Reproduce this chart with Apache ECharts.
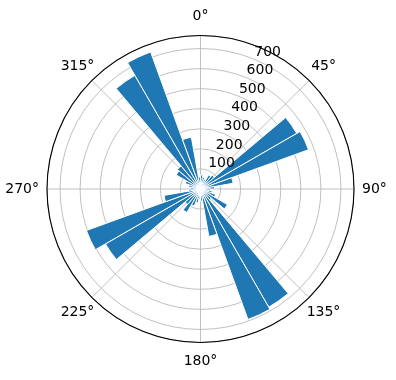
<!DOCTYPE html>
<html>
<head>
<meta charset="utf-8">
<script src="https://cdn.jsdelivr.net/npm/echarts@6/dist/echarts.min.js"></script>
<style>html,body{margin:0;padding:0;background:#fff;}#c{width:396px;height:380px;}</style>
</head>
<body>
<div id="c"></div>
<script>
// Direction bins (10° each, clockwise from north)
const binStarts = [0,10,20,30,40,50,60,70,80,90,100,110,120,130,140,150,160,170,180,190,200,210,220,230,240,250,260,270,280,290,300,310,320,330,340,350];
const categories = binStarts.map(s => s + '°-' + (s + 10) + '°');
// Bar heights per bin
const values = [70,60,50,80,90,554,573,165,70,50,60,80,155,70,680,692,240,60,50,70,90,135,100,547,605,185,60,50,60,80,140,150,654,727,262,60];
// Tick labels
const angleTicks = [0,45,90,135,180,225,270,315];
const radialTicks = [100,200,300,400,500,600,700];
const radialMax = 765;

const font = {color:'#000', fontSize:14, fontFamily:'DejaVu Sans'};
const center = [200.5, 189];
const radius = 153.5;

function labelAxis(idx, ticks, margin, padding) {
  return {polarIndex:idx, type:'value', min:0, max:360, interval:45, startAngle:90, clockwise:true,
    axisLine:{show:false}, axisTick:{show:false}, splitLine:{show:false},
    axisLabel:Object.assign({margin:margin, padding:padding || 0,
      formatter: v => (ticks.includes(v) && v !== 360) ? v + '°' : ''}, font)};
}
function hiddenRadius(idx) {
  return {polarIndex:idx, type:'value', min:0, max:radialMax,
    axisLine:{show:false}, axisTick:{show:false}, axisLabel:{show:false}, splitLine:{show:false}};
}

const chart = echarts.init(document.getElementById('c'), null, {renderer:'canvas'});
chart.setOption({
  animation: false,
  polar: [0,1,2,3,4,5,6,7].map(() => ({center: center, radius: radius})),
  angleAxis: [
    {polarIndex:0, type:'category', data:categories, startAngle:90, clockwise:true, boundaryGap:true,
     axisLine:{show:false}, axisTick:{show:false}, axisLabel:{show:false}, splitLine:{show:false}},
    {polarIndex:1, type:'value', min:0, max:360, interval:45, startAngle:90, clockwise:true,
     axisLine:{show:true, lineStyle:{color:'#000', width:1.1}}, axisTick:{show:false},
     axisLabel:Object.assign({margin:12,
       formatter: v => (v === angleTicks[0] || v === angleTicks[4]) ? v + '°' : ''}, font),
     splitLine:{show:true, lineStyle:{color:'#b0b0b0', width:0.8}}},
    {polarIndex:2, type:'value', min:0, max:360, startAngle:67.5, clockwise:true,
     axisLine:{show:false}, axisTick:{show:false}, axisLabel:{show:false}, splitLine:{show:false}},
    labelAxis(3, [angleTicks[2], angleTicks[6]], 8),
    labelAxis(4, [angleTicks[1]], 3, [0, 0, 5, 0]),
    labelAxis(5, [angleTicks[3]], -3.4, [10, 0, 0, 0]),
    labelAxis(6, [angleTicks[5]], -3.4, [10, 0, 0, 0]),
    labelAxis(7, [angleTicks[7]], -3.4, [0, 0, 10, 0])
  ],
  radiusAxis: [
    {polarIndex:0, type:'value', min:0, max:radialMax, interval:100,
     axisLine:{show:false}, axisTick:{show:false}, axisLabel:{show:false},
     splitLine:{show:true, lineStyle:{color:'#b0b0b0', width:0.8}}},
    hiddenRadius(1),
    {polarIndex:2, type:'value', min:0, max:radialMax, interval:100, z:10,
     axisLine:{show:false}, axisTick:{show:false}, splitLine:{show:false},
     axisLabel:Object.assign({margin:0, align:'left', verticalAlign:'bottom',
       formatter: v => radialTicks.includes(v) ? String(v) : ''}, font)},
    hiddenRadius(3), hiddenRadius(4), hiddenRadius(5), hiddenRadius(6), hiddenRadius(7)
  ],
  series: [{
    type:'bar', coordinateSystem:'polar', polarIndex:0,
    data: values, barCategoryGap:'0%',
    itemStyle:{color:'#1f77b4', borderColor:'#ffffff', borderWidth:1}
  }]
});
</script>
</body>
</html>
